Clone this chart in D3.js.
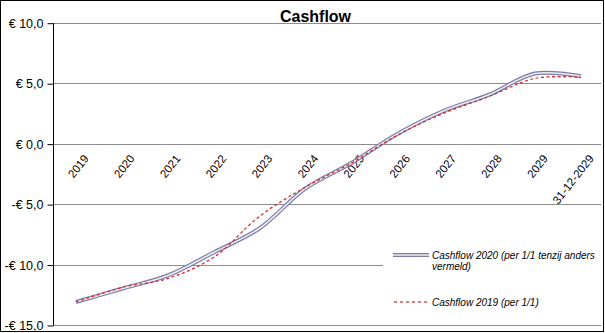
<!DOCTYPE html>
<html><head><meta charset="utf-8">
<script src="https://cdn.jsdelivr.net/npm/d3@7/dist/d3.min.js"></script>
<style>
html,body{margin:0;padding:0;background:#fff;}
svg{display:block;}
text{font-family:Arial,"Liberation Sans",sans-serif;}
</style></head>
<body>
<svg id="chart" width="605" height="333"></svg>
<script>
const categories = ["2019","2020","2021","2022","2023","2024","2025","2026","2027","2028","2029","31-12-2029"];
const cashflow2020 = [-13.1,-12.0,-10.9,-9.0,-7.0,-3.7,-1.6,0.8,2.7,4.05,5.8,5.57];
const cashflow2019 = [-13.1,-11.9,-11.15,-9.4,-6.0,-3.6,-1.6,0.7,2.5,3.9,5.4,5.5];
const yTicks = [10,5,0,-5,-10,-15];
const seriesNames = ["Cashflow 2020 (per 1/1 tenzij anders", "vermeld)", "Cashflow 2019 (per 1/1)"];
const title = "Cashflow";

const svg = d3.select("#chart");
const W = 605, H = 333;
const pLeft = 53, pRight = 604, pTop = 22.7, pBottom = 325;

svg.append("rect").attr("x",0.5).attr("y",0.5).attr("width",W-2).attr("height",H-2)
  .attr("fill","#fff").attr("stroke","#000").attr("stroke-width",1);

const x = d3.scaleBand().domain(categories).range([pLeft, pRight]);
const y = d3.scaleLinear().domain([-15,10]).range([pBottom, pTop]);

// gridlines
svg.append("g").selectAll("line").data(yTicks).join("line")
  .attr("x1", pLeft).attr("x2", 601)
  .attr("y1", d => Math.round(y(d))+0.5).attr("y2", d => Math.round(y(d))+0.5)
  .attr("stroke","#8c8c8c").attr("stroke-width",1);

// y axis
const yAxis = d3.axisLeft(y).tickValues(yTicks).tickSize(6).tickPadding(4)
  .tickFormat(d => (d<0 ? "-€ " : "€ ") + Math.abs(d).toFixed(1).replace(".", ","));
const ga = svg.append("g").attr("transform",`translate(${pLeft+0.5},0.5)`).call(yAxis);
ga.select(".domain").attr("stroke","#000").attr("d", `M-0,${pTop}V${pBottom}`);
ga.selectAll(".tick line").attr("stroke","#000");
ga.selectAll(".tick text").attr("font-size","12.5px").attr("fill","#000")
  .attr("font-family",'Arial,"Liberation Sans",sans-serif');

// x labels
svg.append("g").selectAll("text").data(categories).join("text")
  .attr("transform", d => `translate(${x(d)+x.bandwidth()/2+7},${y(0)+10}) rotate(-52)`)
  .attr("text-anchor","end").attr("dy","0.7em").attr("font-size","11.5px").attr("fill","#000")
  .text(d => d);

const line = d3.line()
  .x((d,i) => x(categories[i]) + x.bandwidth()/2)
  .y(d => y(d))
  .curve(d3.curveCatmullRom.alpha(0.5));

svg.append("path").attr("d", line(cashflow2020)).attr("fill","none")
  .attr("stroke","#7c7ca6").attr("stroke-width",4);
svg.append("path").attr("d", line(cashflow2020)).attr("fill","none")
  .attr("stroke","#ececf4").attr("stroke-width",1.6);
svg.append("path").attr("d", line(cashflow2019)).attr("fill","none")
  .attr("stroke","#d82020").attr("stroke-width",1.2).attr("stroke-dasharray","3,2.5");

// title
svg.append("text").attr("x",315.5).attr("y",21.5).attr("text-anchor","middle")
  .attr("font-size","16px").attr("font-weight","bold").text(title);

// legend
const lg = svg.append("g");
lg.append("rect").attr("x",383).attr("y",236).attr("width",219).attr("height",84).attr("fill","#fff");
lg.append("line").attr("x1",393).attr("x2",429).attr("y1",255).attr("y2",255)
  .attr("stroke","#7c7ca6").attr("stroke-width",4);
lg.append("line").attr("x1",393).attr("x2",429).attr("y1",255).attr("y2",255)
  .attr("stroke","#ececf4").attr("stroke-width",1.6);
lg.append("line").attr("x1",394).attr("x2",429).attr("y1",302).attr("y2",302)
  .attr("stroke","#b00000").attr("stroke-width",1).attr("stroke-dasharray","3,3");
lg.append("text").attr("x",432).attr("y",259).attr("font-size","10px").attr("font-style","italic").text(seriesNames[0]);
lg.append("text").attr("x",432).attr("y",270).attr("font-size","10px").attr("font-style","italic").text(seriesNames[1]);
lg.append("text").attr("x",432).attr("y",306).attr("font-size","10px").attr("font-style","italic").text(seriesNames[2]);
</script>
</body></html>
